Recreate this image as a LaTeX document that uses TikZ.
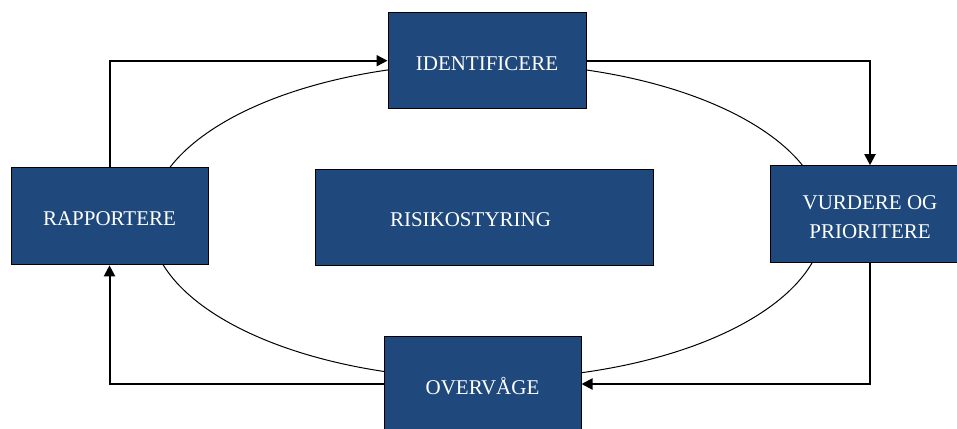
\documentclass[tikz,border=0pt]{standalone}
\usepackage{fontspec}
\setmainfont{Liberation Serif}
\usetikzlibrary{arrows.meta}
\definecolor{boxblue}{HTML}{1F497D}
\newcommand{\boxtext}[1]{\raisebox{0pt}[\dimexpr\height+5pt\relax][\depth]{#1}}
\tikzset{
  stepbox/.style={draw=black, line width=1pt, fill=boxblue, text=white,
    font=\fontsize{21}{29}\selectfont, align=center, inner sep=0pt},
  arr/.style={line width=2pt, -{Triangle[length=11pt,width=11pt]}},
}
\begin{document}
\begin{tikzpicture}[x=1pt,y=-1pt]
\useasboundingbox (0,0) rectangle (957,428);
\clip (0,0) rectangle (957,428);
\fill[white] (0,0) rectangle (957,428);
\draw[line width=1pt] (487,221) ellipse [x radius=337pt, y radius=158pt];
\node[stepbox, minimum width=198pt, minimum height=96pt] (ident) at (487,60.7) {\boxtext{IDENTIFICERE}};
\node[stepbox, minimum width=197pt, minimum height=97pt] (rapp) at (109.5,216.3) {\boxtext{RAPPORTERE}};
\node[stepbox, minimum width=338pt, minimum height=96pt] (risk) at (484,217) {\boxtext{RISIKOSTYRING\hspace*{27pt}}};
\node[stepbox, minimum width=200pt, minimum height=97pt] (vurd) at (870,214.2) {\boxtext{\parbox{200pt}{\centering VURDERE OG\\PRIORITERE}}};
\node[stepbox, minimum width=197pt, minimum height=96pt] (overv) at (482.5,384) {\boxtext{OVERVÅGE}};
\draw[arr] (rapp.north) |- (ident.west);
\draw[arr] (ident.east) -| (vurd.north);
\draw[arr] (vurd.south) |- (overv.east);
\draw[arr] (overv.west) -| (rapp.south);
\end{tikzpicture}
\end{document}
